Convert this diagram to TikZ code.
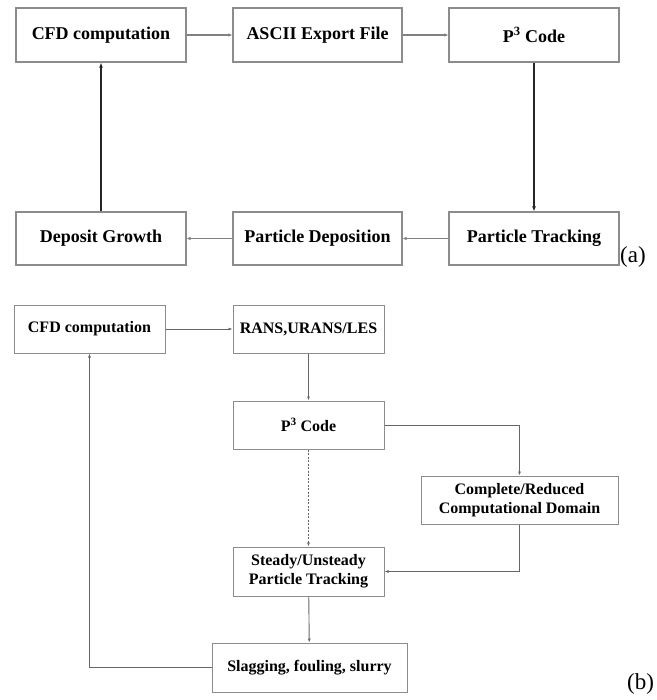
\documentclass[tikz,border=0pt]{standalone}
\usepackage{fontspec}
\setmainfont{Liberation Serif}
\usetikzlibrary{arrows.meta}
\begin{document}
\begin{tikzpicture}[x=1pt,y=-1pt,
 box/.style={draw=black!45, line width=1.2pt, fill=white, inner sep=0pt, align=center, font=\fontsize{18}{20}\selectfont\bfseries},
 boxb/.style={box, line width=1pt, font=\fontsize{16}{19}\selectfont\bfseries},
 conn/.style={draw=black!50, line width=1.2pt, -{Latex[length=4pt,width=3.5pt]}},
 connv/.style={draw=black!85, line width=2pt, -{Latex[length=5pt,width=4pt]}},
 connb/.style={draw=black!60, line width=0.9pt, -{Latex[length=4pt,width=3pt]}},
 lab/.style={font=\fontsize{23}{25}\selectfont, inner sep=0pt}]
\useasboundingbox (0,0) rectangle (656,700);
\fill[white] (0,0) rectangle (656,700);
% (a)
\node[box, minimum width=170pt, minimum height=54pt] (a1) at (101,35) {CFD computation};
\node[box, minimum width=169pt, minimum height=54pt] (a2) at (317.5,35) {ASCII Export File};
\node[box, minimum width=170pt, minimum height=54pt] (a3) at (534,35) {P\textsuperscript{3} Code};
\node[box, minimum width=170pt, minimum height=53pt] (a4) at (101,238.5) {Deposit Growth};
\node[box, minimum width=169pt, minimum height=53pt] (a5) at (317.5,238.5) {Particle Deposition};
\node[box, minimum width=170pt, minimum height=53pt] (a6) at (534,238.5) {Particle Tracking};
\draw[conn] (a1) -- (a2);
\draw[conn] (a2) -- (a3);
\draw[connv] (a3) -- (a6);
\draw[conn] (a6) -- (a5);
\draw[conn] (a5) -- (a4);
\draw[connv] (a4) -- (a1);
\node[lab, anchor=base west] (la) at (620,262) {(a)};
% (b)
\node[boxb, minimum width=151pt, minimum height=48pt] (b1) at (89.5,329) {CFD computation};
\node[boxb, minimum width=151pt, minimum height=48pt] (b2) at (308.5,329) {RANS,URANS/LES};
\node[boxb, minimum width=151pt, minimum height=48pt] (b3) at (308.5,425) {P\textsuperscript{3} Code};
\node[boxb, minimum width=197pt, minimum height=48pt] (b4) at (519.5,500) {Complete/Reduced\\Computational Domain};
\node[boxb, minimum width=151pt, minimum height=49pt] (b5) at (308.5,571.5) {Steady/Unsteady\\Particle Tracking};
\node[boxb, minimum width=195pt, minimum height=49pt] (b6) at (309.5,667.5) {Slagging, fouling, slurry};
\draw[connb] (b1) -- (b2);
\draw[connb] (b2) -- (b3);
\draw[connb] (b3.east) -| (b4.north);
\draw[connb] (b4.south) |- (b5.east);
\draw[connb, dash pattern=on 2pt off 1.5pt] (b3) -- (b5);
\draw[connb] (b5) -- (b6);
\draw[connb] (b6.west) -| (b1.south);
\node[lab, anchor=base west] (lb) at (627,689) {(b)};
\end{tikzpicture}
\end{document}
